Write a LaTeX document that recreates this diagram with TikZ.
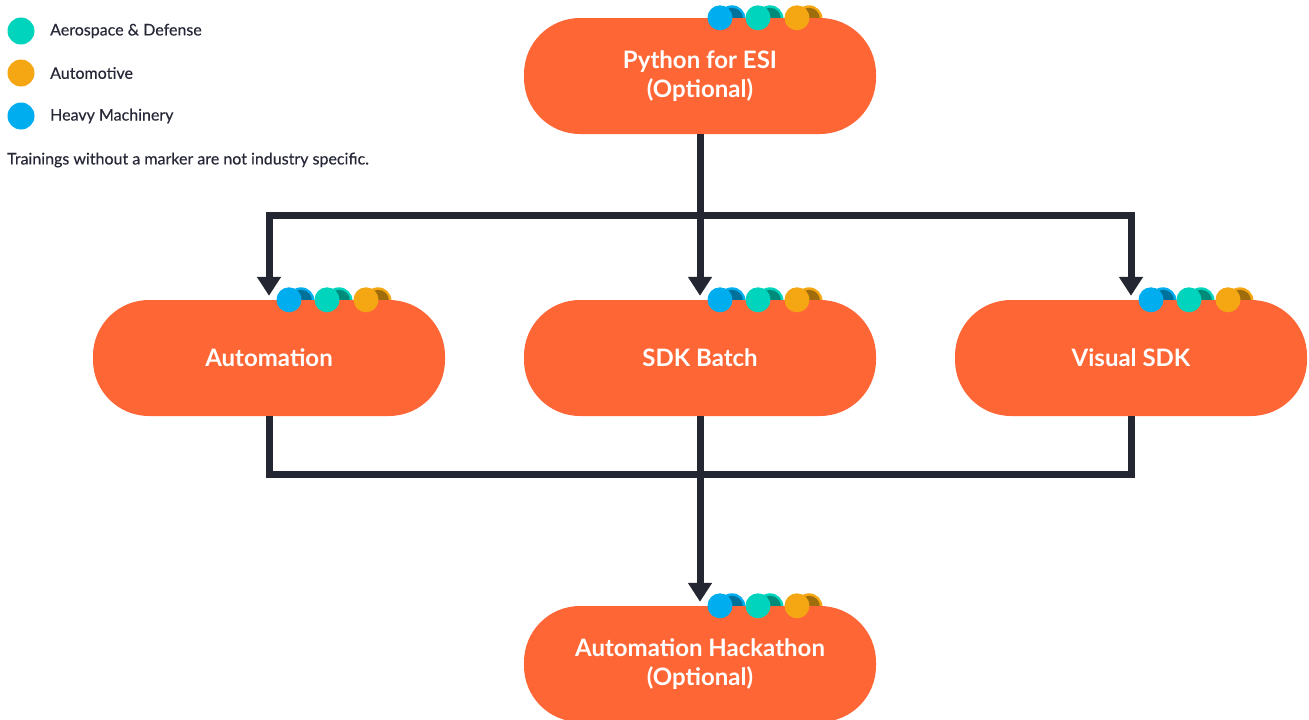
\documentclass[tikz,border=0pt]{standalone}
\usepackage{fontspec}
\setmainfont{Lato}
\newfontface\legendface{Lato}[FakeBold=0.35]
\usetikzlibrary{arrows.meta,calc,positioning}
\definecolor{boxorange}{RGB}{255,102,53}
\definecolor{linkdark}{RGB}{36,38,50}
\definecolor{legendtxt}{RGB}{38,40,55}
\definecolor{heavycol}{RGB}{0,174,239}
\definecolor{aerocol}{RGB}{0,212,188}
\definecolor{autocol}{RGB}{245,167,19}
\tikzset{
  stage/.style={rectangle,rounded corners=56pt,minimum width=352pt,minimum height=116pt,fill=boxorange,text=white,align=center,font=\bfseries\fontsize{24}{28.5}\selectfont},
  link/.style={line width=7pt,draw=linkdark},
  arrowlink/.style={link,-{Triangle[length=19pt,width=23pt]},shorten >=4pt},
  legendtext/.style={anchor=west,text=legendtxt,inner sep=0pt,font=\legendface\fontsize{16}{19}\selectfont}
}
% industry marker on the top edge of a stage
\newcommand{\indmark}[3]{%
  \begin{scope}
    \clip ($(#1.north)+(#2-20,-20)$) rectangle ($(#1.north)+(#2+30,0)$);
    \fill[#3] ($(#1.north)+(#2+12,1)$) circle (13.5pt);
    \fill[#3!65!black] ($(#1.north)+(#2+12,1)$) circle (11pt);
  \end{scope}
  \fill[#3] ($(#1.north)+(#2,0)$) circle (12.5pt);
}

\begin{document}
\begin{tikzpicture}[x=1pt,y=-1pt]
  \useasboundingbox (0,0) rectangle (1309,720);
  % legend
  \foreach \yy/\cc/\tt in {31/aerocol/Aerospace \& Defense,73/autocol/Automotive,116/heavycol/Heavy Machinery}{
    \fill[\cc] (21,\yy) circle (13.5pt);
    \node[legendtext] (lg\yy) at (50,\yy) {\tt};
  }
  \node[legendtext] (lgnote) at (7,160) {Trainings without a marker are not industry specific.};
  % stages
  \node[stage] (python) at (700,76) {Python for ESI\\(Optional)};
  \node[stage] (auto) at (269,358) {Automation};
  \node[stage] (batch) at (700,358) {SDK Batch};
  \node[stage] (visual) at (1131,358) {Visual SDK};
  \node[stage] (hack) at (700,664) {Automation Hackathon\\(Optional)};
  \coordinate (split) at (700,215);
  \coordinate (join) at (700,474);
  % connectors
  \draw[link] (python) -- (split);
  \draw[arrowlink] (split) -| (auto.north);
  \draw[arrowlink] (split) -| (visual.north);
  \draw[arrowlink] (split) -- (batch.north);
  \draw[link] (auto.south) |- (join);
  \draw[link] (visual.south) |- (join);
  \draw[link] (batch.south) -- (join);
  \draw[arrowlink] (join) -- (hack.north);
  % markers
  \foreach \nn in {python,auto,batch,visual,hack}{
    \indmark{\nn}{20}{heavycol}
    \indmark{\nn}{58}{aerocol}
    \indmark{\nn}{97}{autocol}
  }
\end{tikzpicture}
\end{document}
